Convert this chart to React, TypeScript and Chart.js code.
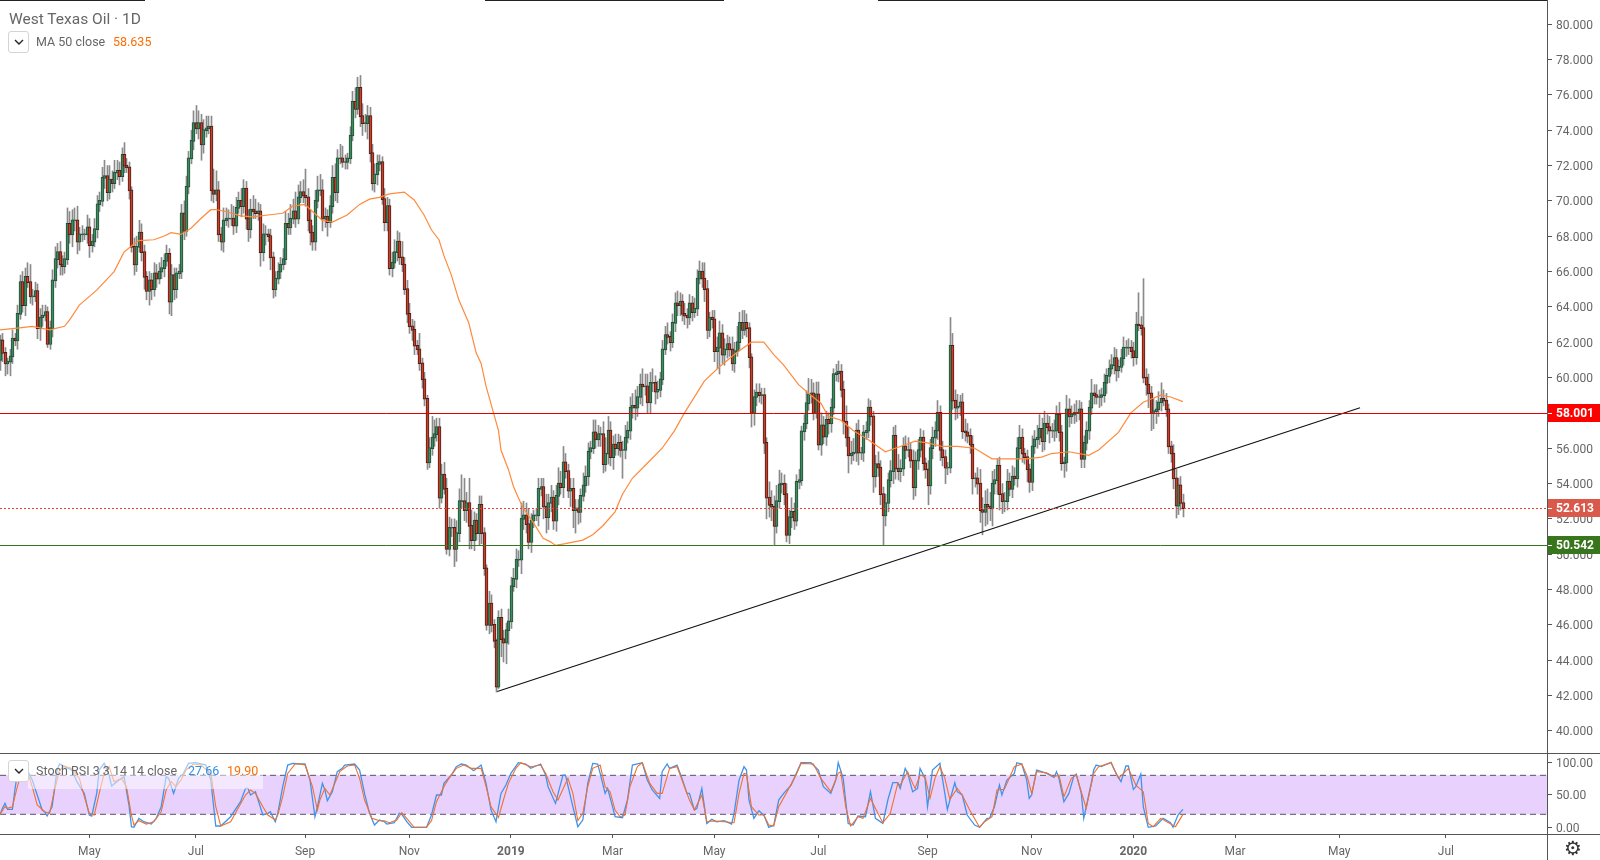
import React, { useEffect, useRef } from 'react';
import { Chart, registerables } from 'chart.js';

Chart.register(...registerables);

// Daily closes, one per bar
const closes = [
  62.1, 61.4, 60.8, 60.9, 61.2, 62.2, 62.1, 63.6, 65.4, 64.1,
  65.7, 65.4, 64.6, 64.6, 64.9, 62.8, 63.4, 63.5, 63.7, 61.9,
  62.8, 65.5, 66.7, 67.1, 66.4, 66.3, 66.7, 68.7, 68.1, 68.9,
  68.9, 67.7, 68.1, 68.1, 68.1, 68.5, 67.5, 67.7, 68.4, 69.8,
  70.0, 71.3, 71.4, 70.5, 71.2, 71.0, 71.6, 71.7, 71.4, 72.6,
  72.0, 71.9, 70.6, 67.4, 66.4, 67.4, 68.2, 67.1, 65.7, 64.9,
  65.5, 65.0, 65.9, 65.6, 66.0, 66.2, 66.6, 67.0, 64.3, 65.8,
  65.0, 65.9, 66.0, 69.3, 68.3, 70.8, 72.4, 73.4, 74.4, 74.1,
  74.4, 73.2, 74.0, 74.1, 74.2, 70.6, 70.4, 70.6, 68.1, 67.7,
  68.9, 69.0, 69.0, 69.0, 68.6, 69.6, 70.0, 69.7, 70.7, 69.0,
  68.4, 69.5, 69.4, 69.3, 69.4, 67.1, 68.1, 68.1, 68.0, 66.8,
  65.0, 65.6, 66.0, 66.4, 66.7, 68.7, 68.5, 69.0, 69.4, 69.0,
  70.2, 70.5, 70.3, 70.2, 68.9, 68.2, 67.7, 70.0, 70.6, 70.6,
  69.0, 69.1, 68.8, 69.7, 71.3, 70.5, 72.4, 72.4, 72.2, 72.2,
  72.4, 73.7, 75.6, 75.2, 76.4, 74.8, 74.4, 74.4, 74.8, 72.7,
  71.0, 71.5, 72.1, 72.2, 70.1, 68.8, 69.7, 66.2, 66.5, 67.1,
  67.7, 66.8, 66.4, 65.0, 63.6, 62.9, 62.7, 61.8, 61.6, 60.8,
  59.9, 58.8, 55.2, 56.0, 56.6, 56.8, 57.2, 53.2, 54.5, 53.7,
  50.3, 51.5, 51.5, 50.3, 51.2, 53.0, 53.0, 52.5, 52.9, 51.6,
  50.8, 51.9, 51.2, 52.8, 51.2, 49.2, 46.0, 47.2, 46.0, 45.1,
  42.5, 46.4, 45.2, 45.0, 45.7, 46.2, 48.2, 48.6, 49.7, 49.7,
  52.0, 52.2, 51.7, 50.7, 51.9, 52.2, 52.2, 53.7, 53.8, 52.7,
  52.1, 52.9, 53.2, 51.9, 53.3, 54.0, 53.8, 55.2, 54.7, 53.6,
  53.7, 52.5, 52.6, 52.4, 53.3, 53.9, 54.4, 55.8, 56.0, 56.9,
  56.5, 56.8, 56.8, 55.1, 55.7, 57.0, 55.5, 56.2, 56.0, 56.3,
  55.9, 55.9, 56.6, 57.0, 58.3, 58.4, 58.3, 58.9, 59.6, 59.5,
  59.5, 58.6, 59.7, 59.7, 59.2, 59.3, 59.9, 61.6, 62.4, 62.3,
  62.0, 63.1, 64.2, 64.1, 64.3, 63.6, 63.5, 63.4, 64.2, 63.7,
  63.9, 65.6, 66.0, 65.6, 65.0, 62.7, 63.4, 63.3, 61.5, 61.7,
  62.5, 61.3, 61.6, 61.9, 61.6, 60.8, 61.5, 62.0, 63.1, 62.7,
  63.1, 62.8, 61.15, 58.0, 58.9, 59.15, 59.0, 59.0, 56.3, 53.2,
  52.8, 52.7, 51.6, 53.0, 53.96, 54.0, 53.4, 51.1, 52.1, 52.4,
  51.9, 54.1, 54.2, 56.95, 57.4, 58.55, 59.05, 59.1, 58.0, 59.05,
  56.2, 57.3, 56.66, 57.6, 57.4, 58.3, 60.2, 60.25, 60.34, 59.3,
  57.5, 56.6, 55.6, 55.7, 55.75, 57.0, 55.75, 55.75, 56.9, 57.0,
  58.3, 57.8, 54.4, 55.1, 54.9, 53.4, 52.2, 52.9, 54.2, 54.7,
  56.7, 54.85, 54.7, 54.85, 56.1, 55.9, 55.9, 55.3, 53.8, 55.3,
  55.9, 56.6, 55.15, 54.8, 53.9, 56.0, 56.6, 57.0, 58.0, 55.9,
  55.5, 54.9, 54.9, 61.8, 58.7, 58.3, 58.35, 58.6, 56.95, 56.9,
  56.7, 56.2, 54.3, 54.3, 54.0, 52.5, 52.4, 52.8, 52.7, 52.6,
  54.0, 54.2, 55.0, 53.4, 53.0, 53.0, 54.1, 53.7, 54.4, 54.3,
  56.0, 56.6, 55.7, 55.5, 54.8, 54.1, 56.1, 56.5, 56.6, 57.1,
  56.4, 57.4, 57.2, 57.0, 57.0, 57.0, 57.9, 56.9, 55.15, 55.2,
  58.2, 57.8, 57.9, 58.0, 58.0, 58.2, 55.4, 56.3, 57.0, 58.3,
  59.1, 59.0, 58.9, 58.9, 59.0, 59.7, 60.1, 60.5, 60.7, 61.1,
  60.4, 60.6, 61.1, 61.7, 61.7, 61.7, 61.5, 61.15, 63.0, 62.95,
  62.8, 60.0, 59.6, 59.1, 58.0, 58.1, 58.2, 58.6, 58.8, 58.7,
  58.2, 56.1, 55.7, 54.3, 52.75, 53.9, 52.9, 52.613,
];
const firstOpen = 61.0;

// Wick lengths above and below each body
const upperWicks = [
  0.3, 0.4, 0.3, 0.2, 0.4, 0.5, 0.3, 0.5, 0.4, 0.6,
  0.5, 0.8, 1.0, 0.4, 0.5, 0.4, 0.5, 0.6, 0.4, 0.3,
  0.4, 0.6, 0.7, 0.5, 0.6, 0.5, 0.4, 0.9, 0.7, 0.6,
  0.7, 0.8, 0.4, 0.5, 0.3, 0.7, 0.5, 0.4, 0.6, 0.5,
  0.5, 0.6, 0.9, 0.6, 0.8, 0.5, 0.7, 0.6, 0.5, 0.4,
  0.7, 0.4, 0.3, 0.2, 0.5, 0.6, 0.7, 0.5, 0.4, 0.3,
  0.5, 0.4, 0.6, 0.5, 0.5, 0.6, 0.4, 0.5, 0.3, 0.6,
  0.4, 0.3, 0.4, 0.5, 0.7, 0.6, 0.4, 0.6, 0.7, 1.0,
  0.7, 0.5, 0.6, 0.7, 0.6, 0.6, 1.2, 1.1, 0.5, 0.4,
  0.7, 0.6, 0.5, 0.8, 0.7, 0.6, 0.5, 0.7, 0.5, 0.4,
  0.5, 0.6, 0.8, 0.7, 0.5, 0.4, 0.6, 0.5, 0.3, 0.4,
  0.3, 0.4, 0.5, 0.4, 0.6, 0.7, 0.6, 0.8, 0.7, 1.1,
  0.7, 0.6, 0.7, 1.5, 0.5, 0.6, 0.4, 0.6, 0.8, 0.9,
  0.6, 0.5, 0.4, 0.6, 0.7, 0.8, 0.5, 0.8, 0.7, 0.4,
  0.3, 0.5, 0.6, 0.8, 0.6, 0.7, 0.7, 0.5, 0.6, 0.5,
  0.5, 0.6, 0.5, 0.4, 0.3, 0.6, 0.5, 0.4, 0.6, 0.7,
  0.6, 0.5, 0.9, 0.4, 0.5, 0.6, 0.4, 0.5, 0.3, 0.9,
  0.3, 0.4, 0.2, 0.6, 1.2, 0.8, 0.5, 0.5, 0.6, 0.7,
  0.6, 0.6, 0.5, 0.5, 0.7, 0.7, 1.5, 1.3, 0.6, 1.4,
  0.9, 0.5, 0.4, 0.5, 0.5, 0.3, 0.2, 0.7, 0.5, 0.3,
  0.1, 0.4, 0.5, 0.5, 0.4, 0.7, 0.5, 0.6, 0.6, 0.5,
  0.9, 0.8, 0.7, 0.9, 0.4, 0.3, 0.4, 0.6, 0.5, 0.5,
  0.7, 0.5, 0.7, 0.4, 0.6, 0.9, 0.7, 0.9, 0.5, 0.4,
  0.6, 0.6, 0.5, 0.5, 0.4, 0.7, 0.6, 0.5, 0.4, 0.7,
  0.7, 0.5, 0.4, 0.7, 0.9, 0.8, 0.5, 0.5, 0.6, 0.5,
  0.4, 0.5, 0.7, 0.5, 0.6, 0.7, 0.9, 0.6, 0.6, 0.9,
  0.7, 0.7, 0.6, 0.8, 0.4, 0.5, 0.4, 0.5, 0.5, 0.7,
  0.3, 0.5, 0.6, 0.7, 0.5, 0.4, 0.6, 0.4, 0.5, 0.4,
  0.6, 0.5, 0.6, 0.5, 0.9, 0.5, 0.3, 0.4, 0.5, 0.6,
  0.7, 0.5, 0.6, 0.5, 0.4, 0.7, 0.5, 0.9, 0.6, 0.7,
  0.7, 0.5, 0.3, 0.2, 0.4, 0.5, 0.5, 0.4, 0.4, 0.3,
  0.9, 0.8, 0.6, 0.9, 0.8, 0.6, 0.5, 0.6, 0.4, 0.8,
  0.5, 0.4, 0.6, 0.3, 0.5, 0.7, 0.9, 0.8, 0.6, 0.7,
  0.7, 0.7, 0.5, 0.5, 0.4, 0.5, 0.3, 0.5, 0.6, 0.4,
  0.5, 0.9, 0.6, 0.7, 0.8, 0.4, 0.6, 0.3, 0.4, 0.5,
  0.5, 0.4, 0.3, 0.5, 0.7, 0.4, 0.4, 0.5, 0.4, 0.6,
  0.5, 0.6, 0.8, 0.5, 0.5, 0.6, 0.7, 0.4, 0.6, 0.5,
  0.6, 0.5, 0.4, 0.3, 0.5, 0.5, 0.6, 0.5, 0.7, 0.4,
  0.5, 0.4, 0.3, 1.6, 0.7, 0.6, 0.7, 0.4, 0.5, 0.7,
  0.5, 0.4, 0.5, 0.3, 0.6, 0.8, 0.7, 0.8, 0.9, 0.8,
  0.7, 0.6, 0.4, 0.5, 0.6, 0.5, 0.7, 0.5, 0.6, 0.5,
  0.6, 0.7, 0.5, 0.3, 0.4, 0.3, 0.6, 0.5, 0.7, 0.8,
  0.6, 0.7, 0.5, 0.6, 0.4, 0.6, 0.5, 0.7, 0.4, 0.3,
  0.8, 0.6, 0.5, 0.5, 0.7, 0.5, 0.4, 0.4, 0.5, 0.4,
  0.8, 0.5, 0.6, 0.4, 0.4, 0.5, 0.4, 0.5, 0.6, 0.6,
  0.5, 0.4, 0.5, 0.6, 0.4, 0.5, 0.4, 0.5, 0.7, 1.8,
  0.5, 2.8, 0.5, 0.6, 0.4, 0.7, 0.5, 0.6, 0.9, 0.5,
  0.4, 0.3, 0.3, 0.5, 0.5, 0.4, 0.5, 0.5,
];
const lowerWicks = [
  0.6, 0.5, 0.7, 0.6, 0.8, 0.4, 0.3, 0.5, 0.3, 0.4,
  0.6, 0.3, 0.4, 0.5, 0.3, 0.6, 0.7, 0.5, 0.3, 0.2,
  0.3, 0.5, 0.4, 0.5, 0.6, 0.5, 0.4, 0.3, 0.5, 0.7,
  0.6, 0.7, 0.5, 0.4, 0.3, 0.5, 0.7, 0.4, 0.3, 0.5,
  0.4, 0.3, 0.6, 0.5, 0.4, 0.5, 0.3, 0.4, 0.5, 0.3,
  0.4, 0.3, 0.5, 0.3, 0.6, 0.4, 0.3, 0.5, 0.7, 0.5,
  0.8, 0.6, 0.4, 0.5, 0.3, 0.4, 0.5, 0.3, 0.7, 0.8,
  0.6, 0.5, 0.3, 0.4, 0.5, 0.3, 0.4, 0.3, 0.5, 0.3,
  0.6, 0.9, 0.5, 0.4, 0.3, 0.6, 0.5, 0.4, 0.4, 0.5,
  0.6, 0.3, 0.5, 0.4, 0.5, 0.4, 0.3, 0.6, 0.4, 0.6,
  0.7, 0.5, 0.4, 0.3, 0.4, 0.8, 0.5, 0.6, 0.3, 0.7,
  0.5, 0.4, 0.3, 0.4, 0.3, 0.3, 0.4, 0.4, 0.3, 0.5,
  0.3, 0.3, 0.4, 0.5, 0.6, 0.7, 0.5, 0.5, 0.4, 0.3,
  0.7, 0.5, 0.8, 0.3, 0.4, 0.5, 0.6, 0.3, 0.3, 0.4,
  0.4, 0.3, 0.3, 0.5, 0.3, 0.6, 0.7, 0.5, 0.9, 0.5,
  0.4, 0.5, 0.6, 0.4, 0.3, 0.5, 0.5, 0.4, 0.5, 0.3,
  0.5, 0.4, 0.4, 0.3, 0.5, 0.4, 0.6, 0.5, 0.3, 0.4,
  0.5, 0.4, 0.4, 0.3, 0.4, 0.5, 0.4, 0.6, 0.3, 0.3,
  0.3, 0.4, 0.5, 1.0, 0.7, 0.5, 0.4, 0.6, 0.7, 1.3,
  0.5, 0.6, 0.4, 0.7, 0.6, 0.4, 0.3, 0.5, 0.4, 0.4,
  0.3, 0.1, 1.0, 1.1, 1.2, 0.8, 0.4, 0.3, 0.5, 0.4,
  0.8, 0.6, 0.5, 0.4, 0.6, 0.4, 0.3, 0.6, 0.4, 0.7,
  0.9, 0.7, 0.5, 0.5, 0.6, 0.5, 0.4, 0.6, 0.4, 0.4,
  0.9, 1.0, 1.3, 0.7, 0.6, 0.3, 0.4, 0.5, 0.4, 0.3,
  0.5, 0.4, 0.7, 0.5, 0.4, 0.6, 0.5, 0.7, 0.4, 0.4,
  0.4, 1.6, 0.5, 0.3, 0.5, 0.6, 0.7, 0.5, 0.4, 1.1,
  0.5, 0.6, 0.6, 0.5, 0.7, 0.4, 0.4, 0.3, 0.3, 0.4,
  0.5, 0.3, 0.5, 0.6, 0.6, 0.4, 0.5, 0.6, 0.4, 0.5,
  0.3, 0.4, 0.3, 0.5, 0.7, 0.5, 0.4, 0.5, 0.6, 1.0,
  1.5, 0.5, 0.6, 0.5, 0.4, 0.4, 0.5, 0.3, 0.4, 0.5,
  0.3, 0.5, 0.6, 0.8, 0.7, 0.5, 0.4, 0.5, 0.6, 1.2,
  0.7, 0.8, 1.1, 0.4, 0.4, 0.5, 0.6, 0.4, 0.5, 0.6,
  0.5, 0.3, 0.4, 0.3, 0.5, 0.3, 0.4, 0.5, 0.4, 0.3,
  0.3, 0.6, 0.4, 0.5, 0.6, 0.5, 0.4, 0.4, 0.5, 0.4,
  0.7, 0.5, 1.0, 0.5, 0.4, 0.5, 0.7, 0.4, 0.5, 0.4,
  0.4, 0.5, 0.9, 0.6, 0.5, 0.6, 1.7, 0.6, 0.5, 0.4,
  0.7, 0.6, 0.5, 0.6, 0.4, 0.5, 0.4, 0.4, 0.7, 0.5,
  0.5, 0.4, 0.4, 0.5, 1.1, 0.5, 0.6, 0.5, 0.5, 0.6,
  0.5, 0.9, 0.4, 0.3, 0.5, 0.7, 0.6, 0.5, 0.4, 0.5,
  0.4, 0.5, 0.9, 0.5, 0.6, 0.7, 1.3, 0.8, 1.0, 0.7,
  1.0, 0.6, 0.8, 0.9, 0.7, 0.6, 0.5, 0.4, 0.5, 0.4,
  0.5, 0.6, 0.5, 0.4, 0.7, 0.6, 0.5, 0.4, 0.5, 0.4,
  0.6, 0.5, 0.4, 0.7, 0.4, 0.6, 0.4, 0.5, 0.4, 0.8,
  0.5, 0.6, 0.4, 0.5, 0.5, 0.4, 0.5, 0.5, 0.4, 0.5,
  0.4, 0.5, 0.4, 0.6, 0.5, 0.4, 0.6, 0.4, 0.3, 0.5,
  0.6, 0.4, 0.3, 0.4, 0.5, 0.4, 0.4, 0.5, 0.4, 0.3,
  0.4, 0.3, 0.6, 0.8, 1.0, 0.9, 0.7, 0.4, 0.5, 0.3,
  0.4, 0.4, 0.5, 0.6, 0.7, 0.5, 0.4, 0.5,
];

// MA 50, read at the bars listed in maBars
const maBars = [
  0, 7, 13, 20, 26, 28, 32, 39, 46, 50, 53, 56, 62, 66, 69, 73, 77, 81, 85, 87,
  91, 97, 102, 108, 114, 118, 123, 126, 130, 134, 140, 145, 149, 153, 157, 163,
  167, 171, 174, 177, 179, 182, 185, 189, 192, 194, 196, 199, 201, 202, 205, 207, 209, 211, 215, 219, 222, 224, 228, 235, 239, 243,
  248, 251, 255, 261, 267, 272, 276, 284, 290, 297, 303, 308, 312, 316, 322, 327, 331, 334, 339,
  344, 350, 357, 363, 369, 374, 380, 386, 393, 400, 406, 414, 420, 424, 431, 439,
  443, 451, 456, 461, 468, 472, 477,
];
const maValues = [
  62.7, 62.8, 62.9, 62.7, 62.9, 63.25, 64.1, 64.95, 66.0, 67.1, 67.45, 67.75, 67.8, 68.0, 68.2, 68.1, 68.45, 69.0, 69.5, 69.5,
  69.4, 69.15, 69.1, 69.2, 69.3, 69.7, 69.8, 69.4, 68.9, 68.8, 69.2, 69.8, 70.1, 70.2, 70.4, 70.5,
  70.05, 69.2, 68.35, 67.8, 66.9, 65.8, 64.4, 63.1, 61.4, 60.8, 59.5, 58.0, 57.0, 55.9, 54.8, 53.85, 53.2, 52.6, 51.8, 50.9, 50.7, 50.5, 50.6, 50.8, 51.1, 51.6,
  52.4, 53.4, 54.3, 55.15, 56.0, 57.0, 58.0, 59.8, 60.6, 61.4, 62.0, 62.0, 61.3, 60.7, 59.6, 59.0, 58.55, 57.8, 57.6,
  57.0, 56.5, 55.8, 56.1, 56.4, 56.3, 56.1, 56.1, 56.0, 55.4, 55.4, 55.4, 55.5, 55.7, 55.8, 55.6,
  55.9, 56.9, 58.0, 58.6, 59.0, 58.9, 58.635,
];

// Stoch RSI %K (blue)
const kBars = [
  0, 1, 2, 3, 5, 6, 7, 8, 9, 11, 13, 15, 17, 18, 19, 21, 23, 24, 26, 29, 31, 34, 36, 37, 39, 40, 42, 44, 45, 48,
  50, 52, 53, 54, 56, 58, 61, 63, 65, 67, 68, 70, 72, 74, 76, 79, 83, 85, 87, 89, 93, 97, 99, 100, 101, 103, 106,
  108, 109, 111, 112, 114, 116, 118, 121, 123, 125, 127, 128, 130, 131, 132, 134, 136, 138, 139, 143, 145, 147,
  149, 151, 153, 155, 156, 159, 161, 162, 164, 166, 172, 174, 176, 178, 179, 182, 184, 186, 188, 191, 194, 196,
  198, 200, 202, 204, 206, 209, 212, 214, 218, 220, 221, 224, 227, 228, 231, 233, 235, 237, 239, 241, 242, 244,
  245, 247, 248, 251, 253, 255, 259, 261, 263, 266, 267, 269, 270, 273, 275, 277, 278, 280, 281, 283, 285, 287,
  289, 292, 295, 296, 298, 300, 301, 302, 304, 306, 308, 310, 312, 314, 316, 319, 323, 327, 330, 332, 335, 337,
  338, 340, 342, 344, 346, 349, 351, 353, 356, 358, 360, 362, 363, 365, 366, 368, 370, 371, 373, 374, 376, 379,
  380, 382, 385, 386, 388, 390, 393, 395, 398, 399, 401, 403, 404, 406, 409, 410, 412, 414, 415, 416, 418, 420,
  422, 425, 426, 427, 429, 431, 433, 434, 436, 437, 440, 441, 442, 444, 448, 450, 452, 454, 455, 457, 458, 460,
  461, 463, 466, 469, 472, 473, 475, 477,
];
const kValues = [
  19.9, 29.2, 36.8, 27.6, 27.6, 57.4, 83, 95.8, 98.4, 88.1, 72.7, 49.7, 26.6, 24, 17.4, 31.7, 88.1, 97.4, 93.3, 88.1, 70.2, 52.2, 18.9, 17.4, 52.2, 88.1, 98.4, 80.4, 63.5, 72.7,
  77.9, 34.3, 1, 0, 13.8, 8.6, 5, 13.8, 31.7, 77.9, 75.3, 52.2, 75.3, 83, 98.4, 99.4, 95.8, 72.7, 2, 2, 16.3, 39.4, 59.9, 59.9, 49.7, 54.8, 18.9,
  21.5, 24, 8.6, 21.5, 62.5, 95.8, 98.4, 97.4, 97.4, 72.7, 16.3, 31.7, 67.6, 57.4, 41, 54.8, 85.6, 90.7, 95.8, 97.4, 88.1, 52.2,
  21.5, 3.5, 11.2, 8.6, 5, 7.1, 21.5, 20.4, 8.6, 0, 0, 18.9, 49.7, 49.7, 67.6, 80.4, 93.3, 97.4, 95.8, 87, 95.8, 67.6,
  26.6, 8.6, 52.2, 65, 83, 99.4, 97.4, 90.7, 97.4, 80.4, 62.5, 36.8, 80.4, 80.4, 31.7, 1, 11.2, 67.6, 98.4, 97.4, 83, 52.2,
  59.9, 31.7, 16.3, 14.8, 42, 95.8, 99.4, 72.7, 57.4, 44.5, 85.6, 97.4, 90.7, 95.8, 75.3, 52.2, 52.2, 26.6, 29.2, 59.9, 6, 12.2,
  8.6, 10.2, 5, 21.5, 72.7, 93.3, 88.1, 42, 13.8, 25.6, 18.9, 0, 3.5, 42, 52.2, 65, 99.4, 99.4, 88.1, 62.5, 52.2, 72.7,
  99.4, 75.3, 6, 3.5, 17.4, 16.3, 54.8, 13.8, 6, 42, 68.6, 68.6, 59.9, 90.7, 83, 54.8, 59.9, 90.7, 75.3, 31.7, 88.1, 98.4,
  75.3, 27.6, 68.6, 54.8, 49.7, 18.9, 3.5, 0, 13.8, 13.8, 31.7, 65, 49.7, 72.7, 83, 99.4, 97.4, 72.7, 44.5, 49.7, 88.1, 85.6,
  83, 76.8, 85.6, 75.3, 39.4, 52.2, 78.9, 81.9, 52.2, 13.8, 67.6, 88.1, 95.8, 93.3, 100, 83, 70.2, 94.3, 94.3, 58.4, 62.5, 81.9,
  31.7, 0, 2, 13.8, 7.1, 0, 18.9, 27.66,
];

// Stoch RSI %D (orange)
const dBars = [
  0, 2, 3, 5, 7, 9, 11, 13, 15, 18, 20, 22, 24, 26, 29, 32, 34, 36, 38, 40, 42, 44, 46, 49, 51, 53, 54, 56, 59, 62,
  65, 67, 69, 71, 73, 75, 78, 81, 85, 87, 89, 93, 96, 99, 101, 103, 106, 108, 111, 112, 114, 116, 119, 121, 123,
  126, 128, 129, 131, 133, 135, 137, 140, 143, 145, 147, 150, 153, 155, 157, 160, 162, 164, 167, 172, 174, 176,
  179, 181, 184, 187, 190, 194, 196, 198, 201, 203, 205, 208, 210, 214, 218, 220, 223, 225, 229, 231, 233, 235,
  237, 239, 242, 244, 246, 248, 250, 252, 254, 257, 259, 262, 265, 267, 270, 273, 276, 278, 280, 283, 285, 288,
  292, 296, 298, 300, 301, 303, 306, 308, 310, 312, 314, 317, 321, 323, 328, 331, 335, 338, 339, 341, 343, 346,
  348, 351, 354, 356, 359, 362, 363, 366, 368, 369, 371, 373, 375, 377, 379, 381, 383, 386, 388, 391, 395, 397,
  400, 402, 405, 409, 412, 414, 416, 418, 422, 425, 427, 429, 432, 434, 437, 438, 441, 443, 448, 451, 455, 458,
  461, 463, 465, 468, 474, 477,
];
const dValues = [
  19.9, 31.7, 29.2, 31.7, 62.5, 88.1, 85.6, 62.5, 34.3, 24, 21.5, 57.4, 88.1, 94.3, 90.7, 75.3, 47.1, 21.5, 18.9, 52.2, 83, 93.3, 70.2, 75.3, 62.5, 18.9, 3.5, 10.2, 5, 8.6,
  24, 57.4, 70.2, 62.5, 72.7, 88.1, 97.4, 95.8, 83, 31.7, 2, 8.6, 29.2, 49.7, 57.4, 52.2, 31.7, 18.9, 11.2, 18.9, 47.1, 83, 97.4, 97.4, 95.8,
  62.5, 26.6, 42, 59.9, 49.7, 67.6, 85.6, 94.3, 95.8, 75.3, 42, 13.8, 10.2, 10.2, 7.1, 11.2, 22.5, 13.8, 0, 0, 10.2, 39.4,
  62.5, 75.3, 90.7, 95.8, 90.7, 90.7, 62.5, 31.7, 15.3, 42, 67.6, 90.7, 99.4, 93.3, 95.8, 83, 54.8, 42, 75.3, 52.2, 10.2, 21.5,
  62.5, 90.7, 95.8, 62.5, 54.8, 26.6, 16.3, 18.9, 62.5, 93.3, 99.4, 67.6, 52.2, 52.2, 90.7, 93.3, 62.5, 42, 26.6, 49.7, 8.6, 9.7,
  8.6, 7.1, 52.2, 83, 82, 31.7, 18.9, 18.9, 3.5, 2, 31.7, 52.2, 80.4, 98.4, 97.4, 75.3, 54.8, 83, 85.6, 31.7, 2, 16.3,
  13.8, 44.5, 21.5, 7.1, 21.5, 67.6, 65, 85.6, 67.6, 59.9, 80.4, 77.9, 44.5, 75.3, 93.3, 75.3, 43, 59.9, 49.7, 26.6, 0, 8.6,
  16.3, 57.4, 58.4, 93.3, 97.4, 80.4, 52.2, 85.6, 84, 77.9, 80.4, 47.1, 75.3, 80.4, 42, 29.2, 83, 93.3, 99.4, 75.3, 90.7, 65,
  54.8, 6, 1, 13.8, 1, 19.9,
];

// Levels and the hand drawn trendline
const resistanceLevel = 58.001;
const lastPrice = 52.613;
const supportLevel = 50.542;
const trendBars = [200.5, 548.4];
const trendValues = [42.23, 58.29];

// Bottom axis
const monthBars = [36, 79, 123, 165, 206, 247, 288, 330, 374, 416, 457, 498, 540, 583];
const monthLabels = ['May', 'Jul', 'Sep', 'Nov', '2019', 'Mar', 'May', 'Jul', 'Sep', 'Nov', '2020', 'Mar', 'May', 'Jul'];

const FONT = 'Roboto, sans-serif';
const AXIS_COLOR = '#555';
const BAR_STEP = 2.48; // px per bar
const AXIS_X = 1547;
const MAX_BAR = AXIS_X / BAR_STEP;

// snap a bar to the middle of a pixel so the wicks stay crisp
const snap = (i: number) => (Math.round(i * BAR_STEP) + 0.5) / BAR_STEP;
const pairs = (xs: number[], ys: number[]) => xs.map((x, i) => ({ x, y: ys[i] }));

const opens = closes.map((_, i) => (i === 0 ? firstOpen : closes[i - 1]));
const isUp = closes.map((c, i) => c >= opens[i]);

const wickData = closes.map((c, i) => ({
  x: snap(i),
  y: [Math.min(c, opens[i]) - lowerWicks[i], Math.max(c, opens[i]) + upperWicks[i]],
}));
const bodyData = closes.map((c, i) => ({
  x: snap(i),
  y: [Math.min(c, opens[i]) - 0.03, Math.max(c, opens[i]) + 0.03],
}));

// Horizontal levels and their coloured tags on the right axis
const levels = [
  { value: resistanceLevel, line: '#e00000', tag: '#ff0000', dash: [] as number[] },
  { value: lastPrice, line: '#e8402e', tag: '#d9594a', dash: [2, 2] },
  { value: supportLevel, line: '#38761d', tag: '#38761d', dash: [] as number[] },
];

const priceLevels = {
  id: 'priceLevels',
  afterDatasetsDraw(chart: any) {
    const { ctx, scales } = chart;
    ctx.save();
    levels.forEach((l) => {
      const y = Math.round(scales.y.getPixelForValue(l.value));
      ctx.strokeStyle = l.line;
      ctx.lineWidth = 1;
      ctx.setLineDash(l.dash);
      ctx.beginPath();
      ctx.moveTo(0, y + 0.5);
      ctx.lineTo(AXIS_X, y + 0.5);
      ctx.stroke();
    });
    ctx.restore();
  },
  afterDraw(chart: any) {
    const { ctx, scales } = chart;
    ctx.save();
    ctx.font = `bold 12px ${FONT}`;
    ctx.textBaseline = 'middle';
    levels.forEach((l) => {
      const y = Math.round(scales.y.getPixelForValue(l.value));
      ctx.fillStyle = l.tag;
      ctx.fillRect(AXIS_X, y - 9, 53, 18);
      ctx.fillStyle = '#fff';
      ctx.fillRect(AXIS_X, y, 5, 1);
      ctx.fillText(l.value.toFixed(3), AXIS_X + 9, y + 1);
    });
    ctx.restore();
  },
};

const yAxis = (min: number, max: number, step: number, digits: number) => ({
  position: 'right' as const,
  min,
  max,
  afterFit: (scale: any) => {
    scale.width = 1600 - AXIS_X;
    // no room for half labels, the pane runs edge to edge
    scale.paddingTop = 0;
    scale.paddingBottom = 0;
  },
  grid: { drawOnChartArea: false, drawTicks: true, tickLength: 5, color: AXIS_COLOR },
  border: { display: false },
  ticks: {
    stepSize: step,
    includeBounds: false,
    padding: 4,
    color: '#666',
    // an empty first line with a tiny line height nudges the label down a little
    font: { family: FONT, size: 12, lineHeight: '3px' },
    callback: (v: any) => ['', Number(v).toFixed(digits)],
  },
});

const Chevron = () => (
  <div style={{ width: 19, height: 20, border: '1px solid #d4d4d4', borderRadius: 3, background: '#fff', display: 'flex', alignItems: 'center', justifyContent: 'center' }}>
    <svg width="10" height="6"><polyline points="1,1 5,5 9,1" fill="none" stroke="#222" strokeWidth="1.4" /></svg>
  </div>
);

const absText = (left: number, top: number, color: string, size = 12.5): React.CSSProperties => ({
  position: 'absolute',
  left,
  top,
  color,
  fontSize: size,
  lineHeight: '18px',
  whiteSpace: 'nowrap',
});

const App: React.FC = () => {
  const priceRef = useRef<HTMLCanvasElement | null>(null);
  const stochRef = useRef<HTMLCanvasElement | null>(null);

  useEffect(() => {
    document.body.style.margin = '0';
    if (!priceRef.current || !stochRef.current) return;

    const priceChart = new Chart(priceRef.current, {
      type: 'bar',
      data: {
        datasets: [
          {
            data: wickData as any,
            backgroundColor: '#8a8a8a',
            borderWidth: 0,
            barThickness: 1,
            grouped: false,
            order: 5,
          } as any,
          {
            data: bodyData as any,
            backgroundColor: isUp.map((u) => (u ? '#3f8a60' : '#d23c27')),
            borderColor: isUp.map((u) => (u ? '#234f37' : '#43201a')),
            borderWidth: 1,
            borderSkipped: false,
            barThickness: 3,
            grouped: false,
            order: 4,
          } as any,
          {
            type: 'line',
            data: pairs(maBars, maValues),
            borderColor: '#ff8a3c',
            borderWidth: 1.2,
            pointRadius: 0,
            order: 3,
          } as any,
          {
            type: 'line',
            data: pairs(trendBars, trendValues),
            borderColor: '#111',
            borderWidth: 1.2,
            pointRadius: 0,
            order: 1,
          } as any,
        ],
      },
      options: {
        responsive: false,
        animation: false,
        layout: { padding: 0 },
        plugins: { legend: { display: false }, tooltip: { enabled: false } },
        scales: {
          x: { type: 'linear', min: 0, max: MAX_BAR, offset: false, display: false },
          y: yAxis(38.75, 81.37, 2, 3),
        },
      },
      plugins: [priceLevels],
    } as any);

    const stochChart = new Chart(stochRef.current, {
      type: 'line',
      data: {
        datasets: [
          {
            data: [{ x: 0, y: 80 }, { x: MAX_BAR, y: 80 }],
            borderColor: '#5a4f68',
            borderWidth: 1,
            borderDash: [6, 4],
            pointRadius: 0,
            fill: '+1',
            backgroundColor: '#e9d1fe',
            order: 4,
          },
          {
            data: [{ x: 0, y: 20 }, { x: MAX_BAR, y: 20 }],
            borderColor: '#5a4f68',
            borderWidth: 1,
            borderDash: [6, 4],
            pointRadius: 0,
            order: 3,
          },
          {
            data: pairs(kBars, kValues),
            borderColor: '#3f94ea',
            borderWidth: 1.3,
            pointRadius: 0,
            order: 2,
          },
          {
            data: pairs(dBars, dValues),
            borderColor: '#f2702e',
            borderWidth: 1.1,
            pointRadius: 0,
            order: 1,
          },
        ],
      },
      options: {
        responsive: false,
        animation: false,
        layout: { padding: 0 },
        plugins: { legend: { display: false }, tooltip: { enabled: false } },
        scales: {
          x: {
            type: 'linear',
            min: 0,
            max: MAX_BAR,
            afterBuildTicks: (scale: any) => {
              scale.ticks = monthBars.map((value) => ({ value }));
            },
            afterFit: (scale: any) => {
              scale.height = 26;
              scale.paddingLeft = 0;
              scale.paddingRight = 0;
            },
            grid: { drawOnChartArea: false, drawTicks: true, tickLength: 4, color: AXIS_COLOR },
            border: { display: false },
            ticks: {
              autoSkip: false,
              maxRotation: 0,
              padding: 7,
              color: '#666',
              font: (ctx: any) => ({
                family: FONT,
                size: 12,
                weight: ctx.tick && Number(ctx.tick.label) > 0 ? 'bold' : 'normal',
              }),
              callback: (v: any) => monthLabels[monthBars.indexOf(v)] ?? '',
            },
          },
          y: yAxis(-10.3, 112.8, 50, 2),
        },
      },
    } as any);

    return () => {
      priceChart.destroy();
      stochChart.destroy();
    };
  }, []);

  return (
    <div style={{ position: 'relative', width: 1600, height: 860, overflow: 'hidden', background: '#fff', fontFamily: FONT }}>
      <canvas ref={priceRef} width={1600} height={753} style={{ position: 'absolute', left: 0, top: 0 }} />
      <canvas ref={stochRef} width={1600} height={106} style={{ position: 'absolute', left: 0, top: 754 }} />

      {/* frame lines */}
      <div style={{ position: 'absolute', left: 0, top: 753, width: 1600, height: 1, background: AXIS_COLOR }} />
      <div style={{ position: 'absolute', left: 0, top: 834, width: 1600, height: 1, background: AXIS_COLOR }} />
      <div style={{ position: 'absolute', left: AXIS_X, top: 0, width: 1, height: 860, background: AXIS_COLOR }} />
      <div style={{ position: 'absolute', left: 0, top: 0, width: 145, height: 1, background: '#222' }} />
      <div style={{ position: 'absolute', left: 485, top: 0, width: 239, height: 1, background: '#222' }} />
      <div style={{ position: 'absolute', left: 878, top: 0, width: 669, height: 1, background: '#222' }} />

      {/* price pane legend */}
      <div style={absText(9, 10, '#666', 15.5)}>West Texas Oil · 1D</div>
      <div style={{ position: 'absolute', left: 8, top: 31 }}><Chevron /></div>
      <div style={absText(36, 33, '#666')}>MA 50 close</div>
      <div style={absText(113, 33, '#ff6d00')}>58.635</div>

      {/* stoch pane legend */}
      <div style={{ position: 'absolute', left: 28, top: 760, width: 235, height: 29, background: 'rgba(255,255,255,0.5)' }} />
      <div style={{ position: 'absolute', left: 8, top: 760 }}><Chevron /></div>
      <div style={absText(36, 762, '#666')}>Stoch RSI 3 3 14 14 close</div>
      <div style={absText(188, 762, '#2f8fe8')}>27.66</div>
      <div style={absText(227, 762, '#ff6d00')}>19.90</div>

      {/* settings icon */}
      <div style={{ ...absText(1564, 839, '#333', 20), fontFamily: 'DejaVu Sans' }}>⚙</div>
    </div>
  );
};

export default App;
